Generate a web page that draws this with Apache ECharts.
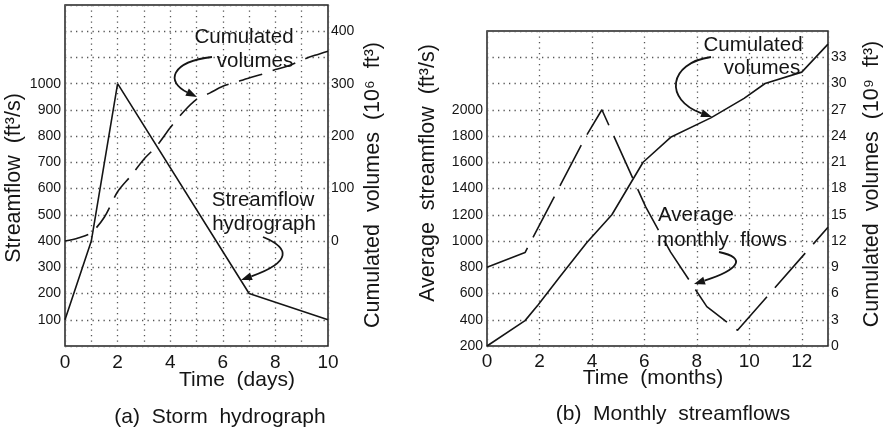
<!DOCTYPE html>
<html>
<head>
<meta charset="utf-8">
<script src="https://cdn.jsdelivr.net/npm/echarts@6/dist/echarts.min.js"></script>
<style>
html,body{margin:0;padding:0;background:#fff;}
#chart{width:888px;height:431px;}
</style>
</head>
<body>
<div id="chart"></div>
<script>
// ---------- Panel (a): storm hydrograph ----------
const hydroDays = [0, 1, 2, 7, 10];
const hydroFlow = [100, 400, 1000, 200, 100];               // ft3/s
const cumDaysA = [0, 0.5, 1, 1.5, 2, 2.5, 3, 3.5, 4, 4.5, 5, 5.5, 6, 6.5, 7, 7.5, 8, 8.5, 9, 9.5, 10];
const cumVolA  = [0, 6, 16, 46, 94, 124, 156, 182, 216, 246, 270, 282, 295, 303, 311, 318, 327, 334, 345, 354, 362]; // 1e6 ft3
const xTicksA = [0, 2, 4, 6, 8, 10];
const yLeftTicksA = [100, 200, 300, 400, 500, 600, 700, 800, 900, 1000];
const yRightTicksA = [0, 100, 200, 300, 400];

// ---------- Panel (b): monthly streamflows ----------
const flowMonths = [0, 1.45, 3.75, 4.38, 6.05, 7.0, 8.38, 9.55, 13];
const flowAvg    = [800, 912, 1790, 2000, 1260, 915, 500, 320, 1105];   // ft3/s
const cumMonthsB = [0, 1.45, 1.96, 2.8, 3.8, 4.76, 5.95, 7.0, 8.55, 9.8, 10.6, 12.0, 13.0];
const cumVolB    = [0, 2.9, 4.75, 8.0, 11.8, 15.0, 21.0, 23.85, 26.1, 28.3, 30.0, 31.3, 34.5]; // 1e9 ft3
const xTicksB = [0, 2, 4, 6, 8, 10, 12];
const yLeftTicksB = [200, 400, 600, 800, 1000, 1200, 1400, 1600, 1800, 2000];
const yRightTicksB = [0, 3, 6, 9, 12, 15, 18, 21, 24, 27, 30, 33];

const FONT = '"Liberation Sans", Arial, Helvetica, sans-serif';
const INK = '#151515';
const pair = (xs, ys) => xs.map((x, i) => [x, ys[i]]);
const only = list => v => (list.indexOf(Math.round(v * 1000) / 1000) >= 0 ? String(v) : '');
const gridLine = { show: true, lineStyle: { color: '#555', width: 1.3, type: [1.3, 4.2] } };

function yAxis(gi, min, max, interval, ticks, pos, split) {
  return {
    type: 'value', gridIndex: gi, position: pos, min, max, interval,
    axisLine: { show: false }, axisTick: { show: false },
    splitLine: split ? gridLine : { show: false },
    axisLabel: { formatter: only(ticks), color: INK, fontSize: 14, fontFamily: FONT, margin: pos === 'left' ? 4 : 3 }
  };
}
function xAxis(gi, min, max, interval, ticks, margin) {
  return {
    type: 'value', gridIndex: gi, min, max, interval,
    axisLine: { show: false }, axisTick: { show: false },
    splitLine: gridLine,
    axisLabel: { formatter: only(ticks), color: INK, fontSize: 19, fontFamily: FONT, margin }
  };
}

function txt(x, y, text, size, rot) {
  return {
    type: 'text', x, y, rotation: rot || 0, z: 100,
    style: { text, font: size + 'px ' + FONT, fill: INK, align: 'center', verticalAlign: 'middle' }
  };
}
function arrow(p0, c1, c2, p1) {
  const dx = p1[0] - c2[0], dy = p1[1] - c2[1];
  const L = Math.sqrt(dx * dx + dy * dy);
  const ux = dx / L, uy = dy / L, hl = 11, hw = 4;
  const bx = p1[0] - ux * hl, by = p1[1] - uy * hl;
  return [
    { type: 'bezierCurve', z: 100,
      shape: { x1: p0[0], y1: p0[1], cpx1: c1[0], cpy1: c1[1], cpx2: c2[0], cpy2: c2[1], x2: bx, y2: by },
      style: { stroke: INK, lineWidth: 1.8, fill: null } },
    { type: 'polygon', z: 100,
      shape: { points: [p1, [bx - uy * hw, by + ux * hw], [bx + uy * hw, by - ux * hw]] },
      style: { fill: INK } }
  ];
}

const chart = echarts.init(document.getElementById('chart'), null, { renderer: 'canvas' });
chart.setOption({
  backgroundColor: '#fff',
  animation: false,
  grid: [
    { left: 65, top: 5, width: 263, height: 341, show: true, borderColor: '#222', borderWidth: 1.5, backgroundColor: 'transparent', outerBoundsMode: 'none' },
    { left: 487, top: 31, width: 341, height: 315, show: true, borderColor: '#222', borderWidth: 1.5, backgroundColor: 'transparent', outerBoundsMode: 'none' }
  ],
  xAxis: [
    xAxis(0, 0, 10, 1, xTicksA, 7),
    xAxis(1, 0, 13, 2, xTicksB, 6)
  ],
  yAxis: [
    yAxis(0, 0, 1300, 100, yLeftTicksA, 'left', true),
    yAxis(0, -200, 450, 100, yRightTicksA, 'right', false),
    yAxis(1, 200, 2600, 200, yLeftTicksB, 'left', true),
    yAxis(1, 0, 36, 3, yRightTicksB, 'right', false)
  ],
  series: [
    { type: 'line', xAxisIndex: 0, yAxisIndex: 0, data: pair(hydroDays, hydroFlow), showSymbol: false,
      lineStyle: { color: INK, width: 1.6 } },
    { type: 'line', xAxisIndex: 0, yAxisIndex: 1, data: pair(cumDaysA, cumVolA), showSymbol: false, smooth: 0.3,
      lineStyle: { color: INK, width: 1.6, type: [24, 11] } },
    { type: 'line', xAxisIndex: 1, yAxisIndex: 2, data: pair(flowMonths, flowAvg), showSymbol: false,
      lineStyle: { color: INK, width: 1.6, type: [46, 12] } },
    { type: 'line', xAxisIndex: 1, yAxisIndex: 3, data: pair(cumMonthsB, cumVolB), showSymbol: false,
      lineStyle: { color: INK, width: 1.6 } }
  ],
  graphic: [
    // axis titles
    txt(14, 178, 'Streamflow  (ft³/s)', 21.5, Math.PI / 2),
    txt(373, 185, 'Cumulated  volumes  (10⁶  ft³)', 21.5, Math.PI / 2),
    txt(237, 380, 'Time  (days)', 21),
    txt(428, 173, 'Average  streamflow  (ft³/s)', 21.5, Math.PI / 2),
    txt(872, 184, 'Cumulated  volumes  (10⁹  ft³)', 21.5, Math.PI / 2),
    txt(653, 378, 'Time  (months)', 21),
    // captions
    txt(220, 417, '(a)  Storm  hydrograph', 21),
    txt(673, 414, '(b)  Monthly  streamflows', 21),
    // annotations (a)
    txt(244, 37, 'Cumulated', 20.5),
    txt(255, 61, 'volumes', 20.5),
    txt(263, 200, 'Streamflow', 20.5),
    txt(264, 224, 'hydrograph', 20.5),
    // annotations (b)
    txt(753, 45, 'Cumulated', 20.5),
    txt(762, 68, 'volumes', 20.5),
    txt(696, 215, 'Average', 20.5),
    txt(722, 240, 'monthly  flows', 20.5),
    ...arrow([212, 57], [170, 62], [166, 82], [197, 97]),
    ...arrow([263, 237], [290, 248], [292, 262], [241, 280]),
    ...arrow([711, 57], [668, 63], [664, 100], [712, 117]),
    ...arrow([719, 252], [748, 258], [738, 270], [694, 284])
  ]
});
</script>
</body>
</html>
